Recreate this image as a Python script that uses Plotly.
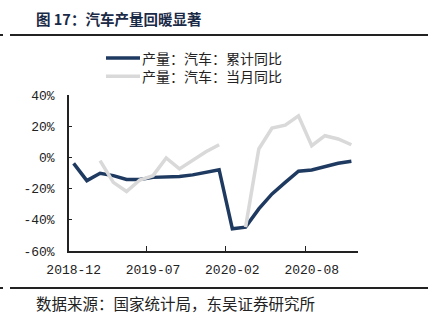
import plotly.graph_objects as go

categories = ["2018-12", "2019-02", "2019-03", "2019-04", "2019-05", "2019-06",
              "2019-07", "2019-08", "2019-09", "2019-10", "2019-11", "2019-12",
              "2020-02", "2020-03", "2020-04", "2020-05", "2020-06", "2020-07",
              "2020-08", "2020-09", "2020-10", "2020-11"]
cumulative_yoy = [-3.8, -14.9, -10.2, -11.7, -14.2, -14.2, -12.8, -12.6, -12.2, -11.2,
                  -9.6, -7.9, -45.8, -44.7, -33.0, -23.4, -16.0, -8.9, -8.1, -5.9, -3.8, -2.5]
monthly_yoy = [None, None, -2.1, -16.0, -21.9, -14.5, -11.7, -0.4, -7.4, -2.1,
               3.6, 8.1, None, -44.7, 5.4, 18.8, 20.7, 26.6, 7.5, 13.9, 11.8, 8.1]
series_names = ["产量：汽车：累计同比", "产量：汽车：当月同比"]
y_tickvals = [-60, -40, -20, 0, 20, 40]
y_ticktext = ["-60%", "-40%", "-20%", "0%", "20%", "40%"]

BLUE = "#1F3A60"
GRAY = "#D9D9D9"
W, H = 432, 335
ML, MR, MT, MB = 69, 74, 95, 84
PW, PH = W - ML - MR, H - MT - MB


def px(x):
    return (x - ML) / PW


def py(y):
    return (H - MB - y) / PH


fig = go.Figure()
fig.add_trace(go.Scatter(x=categories, y=cumulative_yoy, mode="lines", name=series_names[0],
                         line=dict(color=BLUE, width=3.5), connectgaps=False))
fig.add_trace(go.Scatter(x=categories, y=monthly_yoy, mode="lines", name=series_names[1],
                         line=dict(color=GRAY, width=3.5), connectgaps=False))

tick_font = dict(family="Liberation Mono, DejaVu Sans Mono, monospace", size=13, color="#222222")

fig.update_layout(
    width=W, height=H,
    margin=dict(l=ML, r=MR, t=MT, b=MB),
    paper_bgcolor="white", plot_bgcolor="white",
    showlegend=False,
    xaxis=dict(type="category", categoryorder="array", categoryarray=categories,
               range=[-0.35, 21.5], tickmode="linear", tick0=0, dtick=6, tickangle=0,
               tickson="boundaries", ticks="inside", ticklen=5, tickcolor="#222",
               showline=True, linecolor="#222", linewidth=1.5, showgrid=False,
               zeroline=False, tickfont=tick_font, ticklabelstandoff=6),
    yaxis=dict(range=[-60, 40], tickmode="array", tickvals=y_tickvals, ticktext=y_ticktext,
               ticks="inside", ticklen=3, tickcolor="#222",
               showline=True, linecolor="#222", linewidth=1.5, showgrid=False,
               zeroline=False, tickfont=tick_font, ticklabelstandoff=10),
)

cjk = "Noto Sans CJK SC"
LEG_FONT = 14
row_gap = LEG_FONT * 1.3
leg_center = 67.2
row1, row2 = leg_center - row_gap / 2, leg_center + row_gap / 2

shapes = [
    dict(type="line", xref="paper", yref="paper", x0=px(10), x1=px(428), y0=py(35), y1=py(35),
         line=dict(color="#222", width=2)),
    dict(type="line", xref="paper", yref="paper", x0=px(0), x1=px(3), y0=py(35), y1=py(35),
         line=dict(color="#222", width=2)),
    dict(type="line", xref="paper", yref="paper", x0=px(10), x1=px(428), y0=py(288), y1=py(288),
         line=dict(color="#222", width=2)),
    dict(type="line", xref="paper", yref="paper", x0=px(0), x1=px(3), y0=py(288), y1=py(288),
         line=dict(color="#222", width=2)),
    dict(type="line", xref="paper", yref="paper", x0=px(106), x1=px(140), y0=py(row1), y1=py(row1),
         line=dict(color=BLUE, width=3.5)),
    dict(type="line", xref="paper", yref="paper", x0=px(106), x1=px(140), y0=py(row2), y1=py(row2),
         line=dict(color=GRAY, width=3.5)),
]
annotations = [
    dict(text="<b>图 17：汽车产量回暖显著</b>", x=px(34), y=py(18), xref="paper", yref="paper",
         xanchor="left", yanchor="middle", showarrow=False,
         font=dict(family=cjk, size=14.5, color="#1B2A47")),
    dict(text="数据来源：国家统计局，东吴证券研究所", x=px(34), y=py(303), xref="paper", yref="paper",
         xanchor="left", yanchor="middle", showarrow=False,
         font=dict(family=cjk, size=15.5, color="#222")),
    dict(text=series_names[0] + "<br>" + series_names[1], x=px(141), y=py(leg_center),
         xref="paper", yref="paper", xanchor="left", yanchor="middle", align="left",
         showarrow=False, borderpad=0,
         font=dict(family=cjk, size=LEG_FONT, color="#222")),
]
fig.update_layout(shapes=shapes, annotations=annotations)

fig.write_html("out.html")
